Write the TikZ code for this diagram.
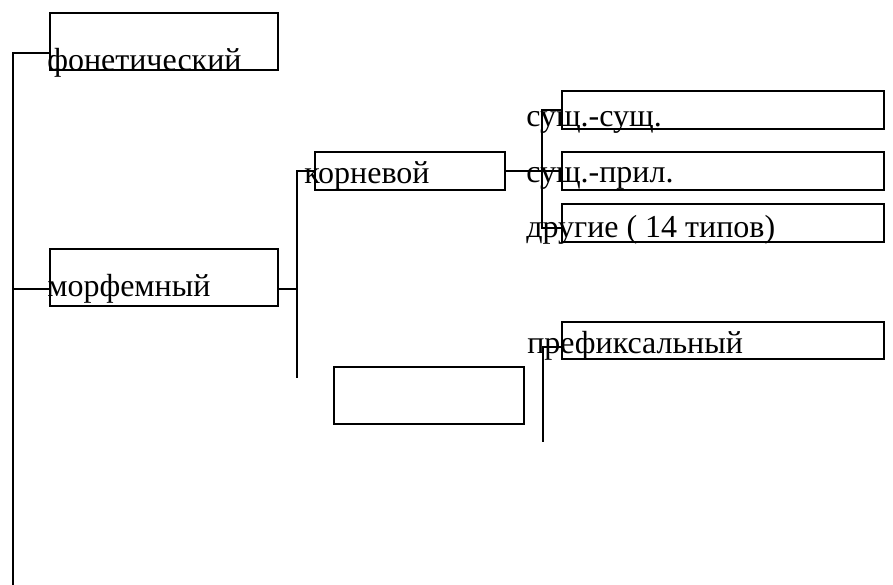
\documentclass[tikz,border=0pt]{standalone}
\usepackage{fontspec}
\setmainfont{Liberation Serif}
\begin{document}
\begin{tikzpicture}[
    x=0.75pt, y=-0.75pt,
    box/.style={draw, line width=1.8pt, inner sep=0pt, outer sep=0pt, minimum height=28.5pt},
    wide/.style={minimum width=241.5pt},
    mid/.style={minimum width=142.5pt},
    tall/.style={minimum width=171pt, minimum height=42.75pt},
    lbl/.style={anchor=base west, inner sep=0pt, font=\fontsize{24}{28}\selectfont},
    ln/.style={line width=2.2pt},
]
\useasboundingbox (0,0) rectangle (893,585);

% boxes
\node[box, tall] (ph) at (164,41.5) {};
\node[box, tall] (morph) at (164,277.5) {};
\node[box, mid] (root) at (410,171) {};
\node[box, mid, minimum height=42.75pt] (empty) at (429,395.5) {};
\node[box, wide] (ss) at (723,110) {};
\node[box, wide] (sp) at (723,171) {};
\node[box, wide] (oth) at (723,223) {};
\node[box, wide, minimum height=27.75pt] (pref) at (723,340.5) {};

% texts
\node[lbl] (t-ph) at (47,71) {фонетический};
\node[lbl] (t-morph) at (47,296) {морфемный};
\node[lbl] (t-root) at (304,183) {корневой};
\node[lbl] (t-ss) at (526,127) {сущ.-сущ.};
\node[lbl] (t-sp) at (526,182) {сущ.-прил.};
\node[lbl] (t-oth) at (526,237) {другие ( 14 типов)};
\node[lbl] (t-pref) at (527,353) {префиксальный};

% bus lines
\coordinate (trunktop) at (13,53);
\coordinate (trunkend) at (13,585);
\coordinate (m-in) at (13,289);
\coordinate (bus2top) at (297,171);
\coordinate (bus2end) at (297,378);
\coordinate (bus3top) at (542,110);
\coordinate (bus3end) at (542,228);
\coordinate (bus4top) at (543,347);
\coordinate (bus4end) at (543,442);

\draw[ln] (ph.west |- trunktop) -- (trunktop) -- (trunkend);
\draw[ln] (m-in) -- (m-in -| morph.west);
\draw[ln] (morph.east |- m-in) -- (m-in -| bus2top);
\draw[ln] (root.west) -- (bus2top) -- (bus2end);
\draw[ln] (root.east) -- (sp.west);
\draw[ln] (ss.west) -- (bus3top) -- (bus3end) -- (bus3end -| oth.west);
\draw[ln] (bus4top -| pref.west) -- (bus4top) -- (bus4end);

\end{tikzpicture}
\end{document}
